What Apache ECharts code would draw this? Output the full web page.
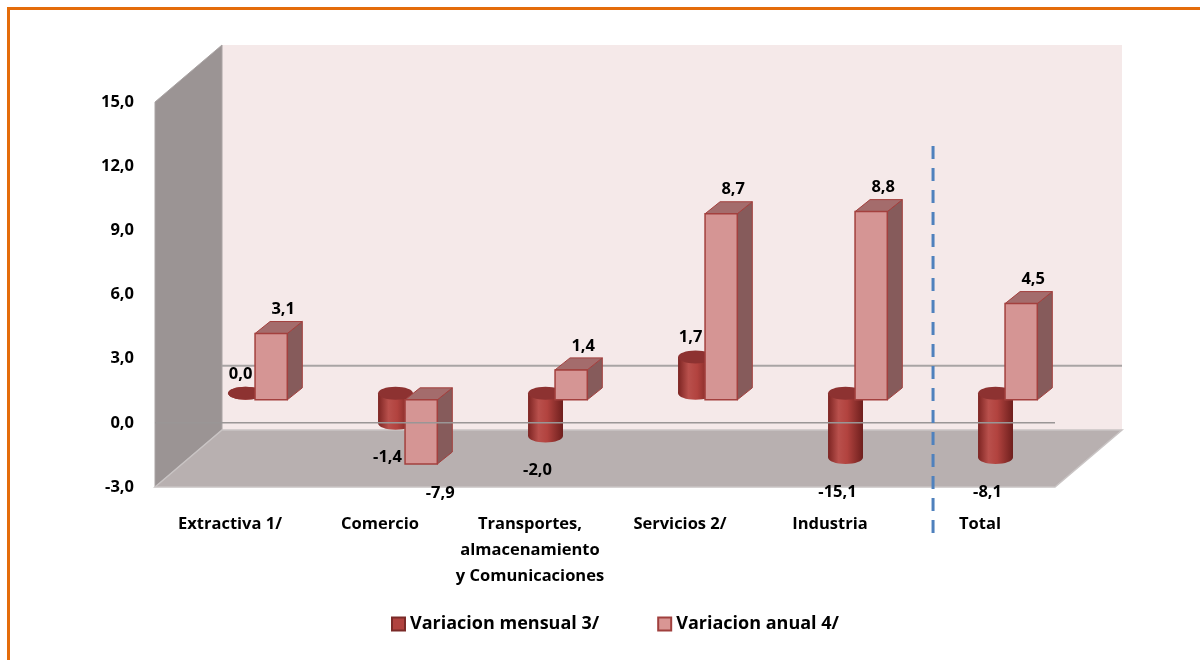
<!DOCTYPE html>
<html>
<head>
<meta charset="utf-8">
<style>
html,body{margin:0;padding:0;background:#fff;}
#chart{width:1200px;height:660px;}
</style>
<script src="https://cdn.jsdelivr.net/npm/echarts@6/dist/echarts.min.js"></script>
</head>
<body>
<div id="chart"></div>
<script>
// ---- data ----
const categories = ['Extractiva 1/', 'Comercio', 'Transportes,\nalmacenamiento\ny Comunicaciones', 'Servicios 2/', 'Industria', 'Total'];
const seriesNames = ['Variacion mensual 3/', 'Variacion anual 4/'];
const mensual = [0.0, -1.4, -2.0, 1.7, -15.1, -8.1];
const anual = [3.1, -7.9, 1.4, 8.7, 8.8, 4.5];
const yMin = -3, yMax = 15, yStep = 3;

const FONT = '"Open Sans", Lato, sans-serif';
const fmt = v => v.toFixed(1).replace('.', ',');
const DY = -23;            // depth shift of bars (px)
const clampV = v => Math.max(yMin, Math.min(yMax, v));

function labelEl(text, x, y) {
  return { type: 'text', z2: 50, style: { text: text, x: x, y: y, fill: '#000', font: 'bold 16.5px ' + FONT, align: 'center', verticalAlign: 'middle' } };
}

function renderCylinder(params, api) {
  const i = api.value(0), v = api.value(1);
  const bw = api.size([1, 0])[0];
  const p0 = api.coord([i, 0]), p1 = api.coord([i, clampV(v)]);
  const cx = p0[0];
  const left = cx - bw * 0.013, w = bw * 0.233;
  const rx = w / 2, ry = 6.5, mid = left + rx;
  const yTop = Math.min(p0[1], p1[1]) + DY, yBot = Math.max(p0[1], p1[1]) + DY;
  const grad = new echarts.graphic.LinearGradient(0, 0, 1, 0, [
    { offset: 0, color: '#7c2422' }, { offset: 0.3, color: '#b9504c' },
    { offset: 0.55, color: '#b2433f' }, { offset: 1, color: '#6e1f1d' }]);
  const children = [];
  children.push({ type: 'ellipse', shape: { cx: mid, cy: yBot - ry, rx: rx, ry: ry }, style: { fill: grad } });
  if (yBot - yTop > 0.5) {
    children.push({ type: 'rect', shape: { x: left, y: yTop - ry, width: w, height: yBot - yTop }, style: { fill: grad } });
  }
  children.push({ type: 'ellipse', shape: { cx: mid, cy: yTop - ry, rx: rx, ry: ry }, style: { fill: '#8d3231' } });
  if (v >= 0) children.push(labelEl(fmt(v), mid - 5, yTop - 26));
  else children.push(labelEl(fmt(v), mid - 8, yBot + 28));
  return { type: 'group', children: children };
}

function renderBox(params, api) {
  const i = api.value(0), v = api.value(1);
  const bw = api.size([1, 0])[0];
  const p0 = api.coord([i, 0]), p1 = api.coord([i, clampV(v)]);
  const cx = p0[0];
  const x0 = cx + bw * 0.167, w = bw * 0.215;
  const ddx = bw * 0.1, ddy = -12;
  const yTop = Math.min(p0[1], p1[1]) + DY, yBot = Math.max(p0[1], p1[1]) + DY;
  const stroke = '#a3403e';
  const children = [
    { type: 'polygon', shape: { points: [[x0 + w, yTop], [x0 + w + ddx, yTop + ddy], [x0 + w + ddx, yBot + ddy], [x0 + w, yBot]] },
      style: { fill: '#865b5b', stroke: stroke, lineWidth: 1 } },
    { type: 'polygon', shape: { points: [[x0, yTop], [x0 + ddx, yTop + ddy], [x0 + w + ddx, yTop + ddy], [x0 + w, yTop]] },
      style: { fill: '#a46c6c', stroke: stroke, lineWidth: 1 } },
    { type: 'rect', shape: { x: x0, y: yTop, width: w, height: yBot - yTop },
      style: { fill: '#d59594', stroke: stroke, lineWidth: 1.5 } }
  ];
  const mid = x0 + w / 2;
  if (v >= 0) children.push(labelEl(fmt(v), mid + 12, yTop - 24));
  else children.push(labelEl(fmt(v), mid + 19, yBot + 29));
  return { type: 'group', children: children };
}

const chart = echarts.init(document.getElementById('chart'), null, { renderer: 'canvas' });
chart.setOption({
  backgroundColor: '#ffffff',
  animation: false,
  grid: { left: 155, right: 145, top: 102, bottom: 173, containLabel: false },
  legend: {
    data: seriesNames, left: 386, top: 610, icon: 'rect', itemWidth: 13, itemHeight: 13, itemGap: 58, itemTextGap: 4,
    textStyle: { fontFamily: FONT, fontWeight: 'bold', fontSize: 18, color: '#000' }
  },
  xAxis: {
    type: 'category', data: categories, boundaryGap: true,
    axisLine: { show: false, onZero: false }, axisTick: { show: false }, splitLine: { show: false },
    axisLabel: { interval: 0, margin: 24, fontFamily: FONT, fontWeight: 'bold', fontSize: 16.5, color: '#000', lineHeight: 26 }
  },
  yAxis: {
    type: 'value', min: yMin, max: yMax, interval: yStep,
    axisLine: { show: false }, axisTick: { show: false }, splitLine: { show: false },
    axisLabel: { margin: 21, formatter: v => fmt(v), fontFamily: FONT, fontWeight: 'bold', fontSize: 16.5, color: '#000' }
  },
  series: [
    { name: seriesNames[0], type: 'custom', z: 3, renderItem: renderCylinder,
      itemStyle: { color: '#b0423f', borderColor: '#7a2a28', borderWidth: 1 },
      data: mensual.map((v, i) => [i, v]) },
    { name: seriesNames[1], type: 'custom', z: 4, renderItem: renderBox,
      itemStyle: { color: '#d99694', borderColor: '#a0403e', borderWidth: 1 },
      data: anual.map((v, i) => [i, v]) }
  ]
});

// ---- decorative 3D walls, derived from the axes ----
const yTopF = chart.convertToPixel({ yAxisIndex: 0 }, yMax);
const yBotF = chart.convertToPixel({ yAxisIndex: 0 }, yMin);
const yZeroF = chart.convertToPixel({ yAxisIndex: 0 }, 0);
const xC0 = chart.convertToPixel({ xAxisIndex: 0 }, 0);
const xC1 = chart.convertToPixel({ xAxisIndex: 0 }, 1);
const band = xC1 - xC0;
const xL = xC0 - band / 2, xR = xL + band * categories.length;
const WX = 67, WY = -57;
const xSep = xL + band * 5 + band * 0.187;

chart.setOption({
  graphic: [
    { type: 'polygon', z: 0, shape: { points: [[xL + WX, yTopF + WY], [xR + WX, yTopF + WY], [xR + WX, yBotF + WY], [xL + WX, yBotF + WY]] },
      style: { fill: '#f5e9e9' } },
    { type: 'polygon', z: 0, shape: { points: [[xL, yTopF], [xL + WX, yTopF + WY], [xL + WX, yBotF + WY], [xL, yBotF]] },
      style: { fill: '#9b9494', stroke: '#aaa4a4', lineWidth: 1 } },
    { type: 'polygon', z: 0, shape: { points: [[xL, yBotF], [xL + WX, yBotF + WY], [xR + WX, yBotF + WY], [xR, yBotF]] },
      style: { fill: '#b8b0b0', stroke: '#c9c4c4', lineWidth: 1.5 } },
    { type: 'line', z: 1, shape: { x1: xL + WX, y1: yZeroF + WY, x2: xR + WX, y2: yZeroF + WY }, style: { stroke: '#a8a4a4', lineWidth: 2 } },
    { type: 'line', z: 20, shape: { x1: xL, y1: yZeroF, x2: xR, y2: yZeroF }, style: { stroke: '#9a9696', lineWidth: 1.5 } },
    { type: 'line', z: 20, shape: { x1: xSep, y1: 146, x2: xSep, y2: 542 }, style: { stroke: '#4f81bd', lineWidth: 3, lineDash: [13, 9] } },
    { type: 'line', z: 20, shape: { x1: 7, y1: 8.5, x2: 1200, y2: 8.5 }, style: { stroke: '#e46c0a', lineWidth: 3 } },
    { type: 'line', z: 20, shape: { x1: 8.5, y1: 7, x2: 8.5, y2: 660 }, style: { stroke: '#e46c0a', lineWidth: 3 } }
  ]
});
</script>
</body>
</html>
